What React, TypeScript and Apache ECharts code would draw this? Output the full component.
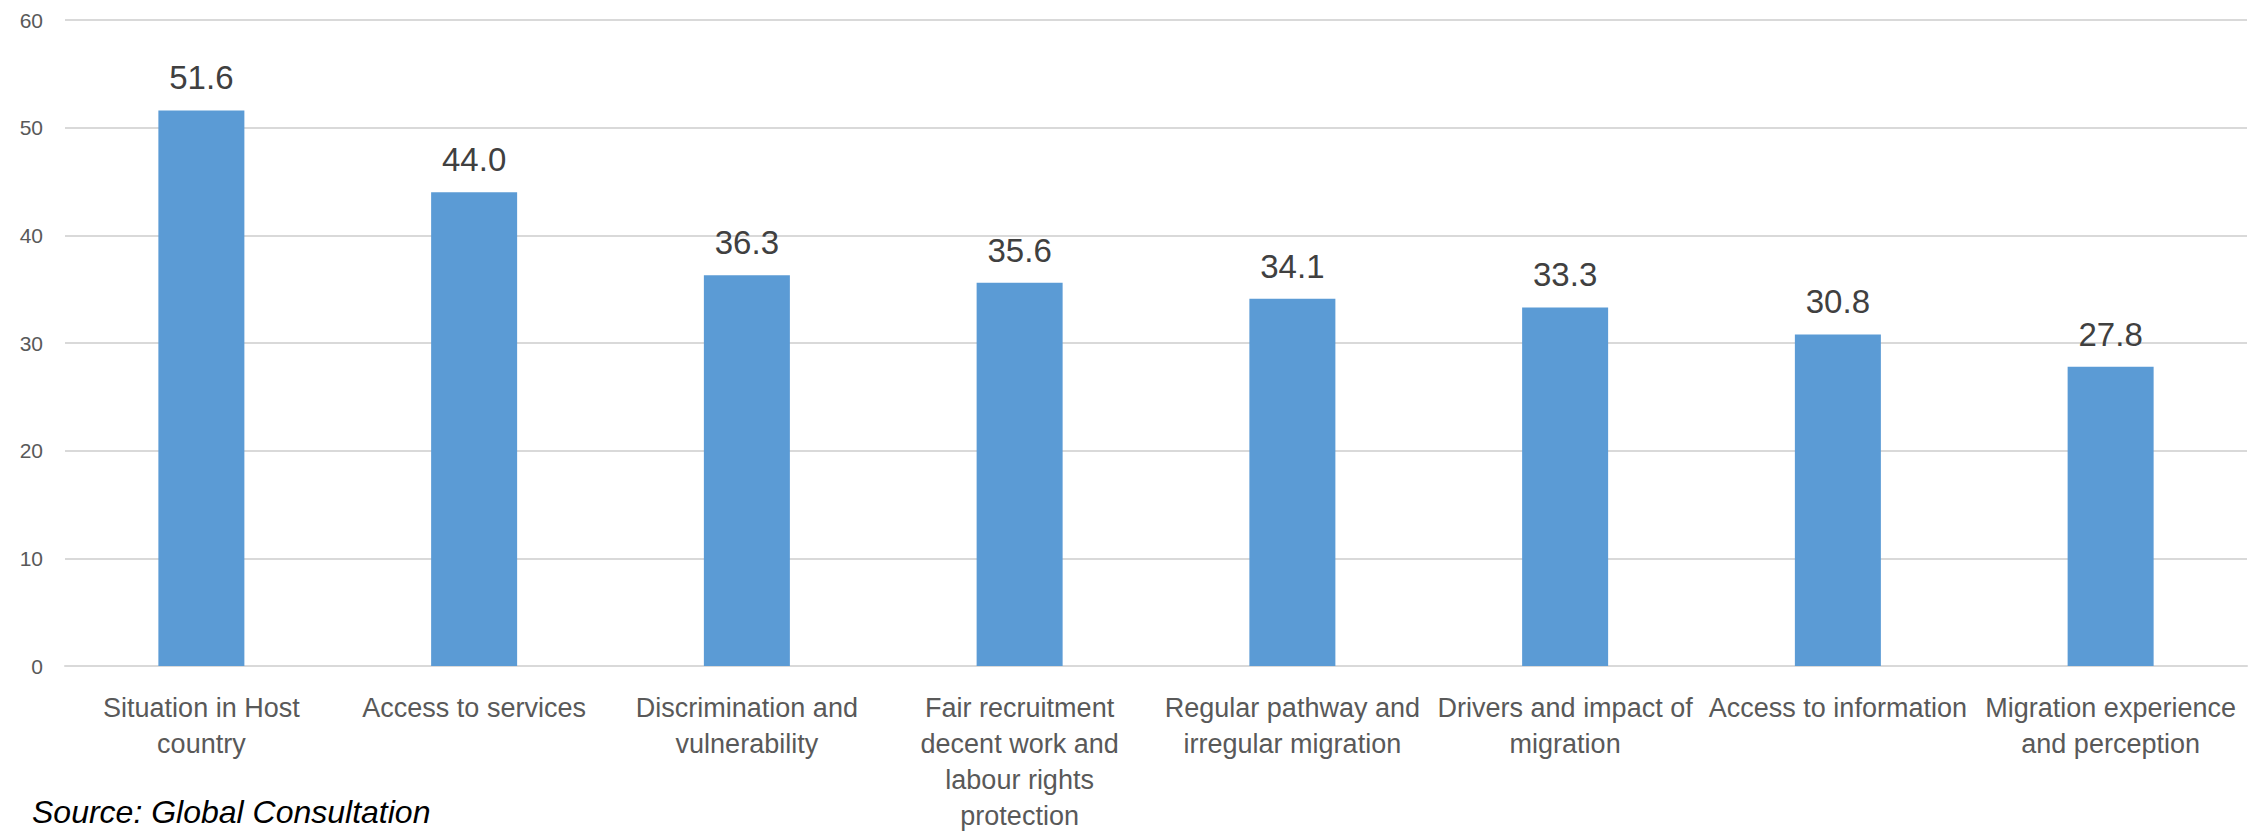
import React, { useEffect, useRef } from "react";
import * as echarts from "echarts";

const categories = [
  "Situation in Host\ncountry",
  "Access to services",
  "Discrimination and\nvulnerability",
  "Fair recruitment\ndecent work and\nlabour rights\nprotection",
  "Regular pathway and\nirregular migration",
  "Drivers and impact of\nmigration",
  "Access to information",
  "Migration experience\nand perception",
];

const values = [51.6, 44.0, 36.3, 35.6, 34.1, 33.3, 30.8, 27.8];

const yTicks = { min: 0, max: 60, interval: 10 };

const sourceNote = "Source: Global Consultation";

export default function App() {
  const ref = useRef<HTMLDivElement>(null);

  useEffect(() => {
    document.body.style.margin = "0";
    if (!ref.current) return;
    const chart = echarts.init(ref.current, null, { renderer: "svg" });
    const font = "'Liberation Sans', Arial, sans-serif";
    chart.setOption({
      animation: false,
      backgroundColor: "#ffffff",
      grid: { left: 65, right: 5, top: 20, bottom: 158, containLabel: false },
      xAxis: {
        type: "category",
        data: categories,
        axisLine: { show: true, lineStyle: { color: "#d9d9d9", width: 2 } },
        axisTick: { show: false },
        axisLabel: {
          interval: 0,
          color: "#595959",
          fontSize: 27,
          fontFamily: font,
          lineHeight: 36,
          margin: 24,
          align: "center",
        },
      },
      yAxis: {
        type: "value",
        min: yTicks.min,
        max: yTicks.max,
        interval: yTicks.interval,
        axisLine: { show: false },
        axisTick: { show: false },
        splitLine: { show: true, lineStyle: { color: "#d9d9d9", width: 2 } },
        axisLabel: {
          color: "#595959",
          fontSize: 21,
          fontFamily: font,
          margin: 22,
        },
      },
      series: [
        {
          type: "bar",
          data: values,
          barWidth: 86,
          itemStyle: { color: "#5b9bd5" },
          label: {
            show: true,
            position: "top",
            distance: 16,
            color: "#404040",
            fontSize: 33,
            fontFamily: font,
            formatter: (p: any) => Number(p.value).toFixed(1),
          },
        },
      ],
      graphic: [
        {
          type: "text",
          left: 32,
          top: 796,
          style: {
            text: sourceNote,
            fontSize: 32,
            fontStyle: "italic",
            fontFamily: font,
            fill: "#000000",
          },
        },
      ],
    });
    return () => chart.dispose();
  }, []);

  return <div ref={ref} style={{ width: 2252, height: 834 }} />;
}
